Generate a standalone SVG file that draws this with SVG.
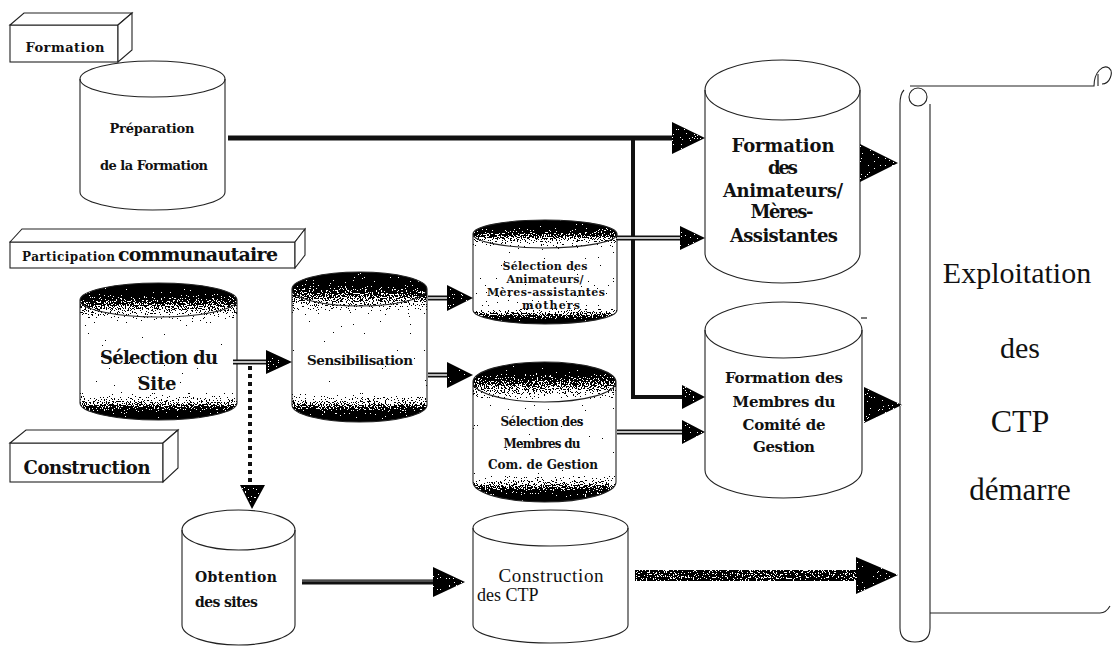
<svg xmlns="http://www.w3.org/2000/svg" width="1114" height="647" viewBox="0 0 1114 647" font-family="'Liberation Serif', 'DejaVu Serif', serif">
<style>
.ol{fill:none;stroke:#222;stroke-width:1.1}
.wf{fill:#fff;stroke:#222;stroke-width:1.1}
text{font-family:'Liberation Serif','DejaVu Serif',serif;fill:#111}
text.b{font-family:'DejaVu Serif','Liberation Serif',serif;font-weight:bold}
.c{text-anchor:middle}
.thick{fill:none;stroke:#111;stroke-width:5}
.dbl{fill:none;stroke:#111;stroke-width:5}
.dbli{fill:none;stroke:#fff;stroke-width:1.4}
.ah{fill:#2a2a2a;filter:url(#dith)}
</style>
<defs>
<filter id="dith" x="0" y="0" width="1" height="1" color-interpolation-filters="sRGB">
<feTurbulence type="fractalNoise" baseFrequency="0.75" numOctaves="2" seed="7" result="t"/>
<feColorMatrix in="t" type="matrix" values="1 0 0 0 0 1 0 0 0 0 1 0 0 0 0 0 0 0 0 1" result="n"/>
<feComposite in="SourceGraphic" in2="n" operator="arithmetic" k1="0" k2="1" k3="1.6" k4="-0.8" result="s"/>
<feComponentTransfer in="s" result="bw">
<feFuncR type="discrete" tableValues="0 1"/>
<feFuncG type="discrete" tableValues="0 1"/>
<feFuncB type="discrete" tableValues="0 1"/>
</feComponentTransfer>
<feComposite in="bw" in2="SourceAlpha" operator="in"/>
</filter>
<linearGradient id="shade" x1="0" y1="0" x2="0" y2="1">
<stop offset="0" stop-color="#000"/>
<stop offset="0.08" stop-color="#222"/>
<stop offset="0.2" stop-color="#999"/>
<stop offset="0.28" stop-color="#eee"/>
<stop offset="0.33" stop-color="#fff"/>
<stop offset="0.79" stop-color="#fff"/>
<stop offset="0.86" stop-color="#aaa"/>
<stop offset="0.93" stop-color="#333"/>
<stop offset="1" stop-color="#000"/>
</linearGradient>
<linearGradient id="shade2" x1="0" y1="0" x2="0" y2="1">
<stop offset="0" stop-color="#000"/>
<stop offset="0.1" stop-color="#333"/>
<stop offset="0.22" stop-color="#bbb"/>
<stop offset="0.3" stop-color="#fff"/>
<stop offset="0.84" stop-color="#eee"/>
<stop offset="0.9" stop-color="#888"/>
<stop offset="0.96" stop-color="#222"/>
<stop offset="1" stop-color="#000"/>
</linearGradient>
</defs>
<rect width="1114" height="647" fill="#fff"/>

<!-- section boxes -->
<g id="box-formation">
<rect class="wf" x="10" y="25" width="108" height="37"/>
<polygon class="wf" points="10,25 24,13 132,13 118,25"/>
<polygon class="wf" points="118,25 132,13 132,50 118,62"/>
<text class="b c" x="65" y="52" font-size="13" textLength="79">Formation</text>
</g>
<g id="box-participation">
<rect class="wf" x="10" y="242" width="285" height="26"/>
<polygon class="wf" points="10,242 22,229 305,229 295,242"/>
<polygon class="wf" points="295,242 305,229 305,255 295,268"/>
<text class="b" x="22" y="261" font-size="12" textLength="93">Participation</text>
<text class="b" x="118" y="261" font-size="19" textLength="160">communautaire</text>
</g>
<g id="box-construction">
<rect class="wf" x="10" y="443" width="153" height="39"/>
<polygon class="wf" points="10,443 26,430 178,430 163,443"/>
<polygon class="wf" points="163,443 178,430 178,468 163,482"/>
<text class="b c" x="87" y="474" font-size="18" textLength="127">Construction</text>
</g>

<!-- cylinders -->
<g id="preparation">
<path class="wf" d="M80,79 A72.5,18 0 0 1 225,79 V192 A72.5,18 0 0 1 80,192 Z"/>
<path class="ol" d="M80,79 A72.5,18 0 0 0 225,79"/>
<text class="b c" x="152" y="133" font-size="13" textLength="85">Préparation</text>
<text class="b c" x="154" y="170" font-size="13" textLength="108">de la Formation</text>
</g>
<g id="selection-site">
<path fill="url(#shade)" filter="url(#dith)" d="M80,300 A78.5,17 0 0 1 237,300 V403 A78.5,17 0 0 1 80,403 Z"/>
<path class="ol" d="M80,300 A78.5,17 0 0 1 237,300 V403 A78.5,17 0 0 1 80,403 Z M80,300 A78.5,17 0 0 0 237,300"/>
<text class="b c" x="159" y="364" font-size="18" textLength="118">Sélection du</text>
<text class="b c" x="157" y="390" font-size="18" textLength="39">Site</text>
</g>
<g id="sensibilisation">
<path fill="url(#shade)" filter="url(#dith)" d="M292,289 A67.5,17 0 0 1 427,289 V405 A67.5,17 0 0 1 292,405 Z"/>
<path class="ol" d="M292,289 A67.5,17 0 0 1 427,289 V405 A67.5,17 0 0 1 292,405 Z M292,289 A67.5,17 0 0 0 427,289"/>
<text class="b c" x="360" y="365" font-size="13.5" textLength="106">Sensibilisation</text>
</g>
<g id="selection-animateurs">
<path fill="url(#shade2)" filter="url(#dith)" d="M473,234 A72,14 0 0 1 617,234 V310 A72,14 0 0 1 473,310 Z"/>
<path class="ol" d="M473,234 A72,14 0 0 1 617,234 V310 A72,14 0 0 1 473,310 Z M473,234 A72,14 0 0 0 617,234"/>
<text class="b c" x="545" y="270" font-size="11" textLength="85">Sélection des</text>
<text class="b c" x="545" y="283" font-size="11" textLength="77">Animateurs/</text>
<text class="b c" x="546" y="296" font-size="11" textLength="118">Mères-assistantes</text>
<text class="b c" x="551" y="309" font-size="11" textLength="58">mothers</text>
</g>
<g id="selection-membres">
<path fill="url(#shade)" filter="url(#dith)" d="M473,382 A71.5,20 0 0 1 616,382 V482 A71.5,20 0 0 1 473,482 Z"/>
<path class="ol" d="M473,382 A71.5,20 0 0 1 616,382 V482 A71.5,20 0 0 1 473,482 Z M473,382 A71.5,20 0 0 0 616,382"/>
<text class="b c" x="542" y="426" font-size="12" textLength="83">Sélection des</text>
<text class="b c" x="542" y="448" font-size="12" textLength="77">Membres du</text>
<text class="b c" x="543" y="469" font-size="12" textLength="110">Com. de Gestion</text>
</g>
<g id="formation-animateurs">
<path class="wf" d="M705,90 A77.5,30 0 0 1 860,90 V253 A77.5,30 0 0 1 705,253 Z"/>
<path class="ol" d="M705,90 A77.5,30 0 0 0 860,90"/>
<text class="b c" x="783" y="152" font-size="18" textLength="103">Formation</text>
<text class="b c" x="783" y="174" font-size="18" textLength="30">des</text>
<text class="b c" x="783" y="197" font-size="18" textLength="120">Animateurs/</text>
<text class="b c" x="782" y="218" font-size="18" textLength="63">Mères-</text>
<text class="b c" x="784" y="242" font-size="18" textLength="108">Assistantes</text>
</g>
<g id="formation-membres">
<path class="wf" d="M705,330 A78.5,28 0 0 1 862,330 V470 A78.5,28 0 0 1 705,470 Z"/>
<path class="ol" d="M705,330 A78.5,28 0 0 0 862,330"/>
<text class="b c" x="784" y="383" font-size="15" textLength="118">Formation des</text>
<text class="b c" x="784" y="407" font-size="15" textLength="103">Membres du</text>
<text class="b c" x="784" y="430" font-size="15" textLength="83">Comité de</text>
<text class="b c" x="784" y="452" font-size="15" textLength="62">Gestion</text>
</g>
<g id="obtention">
<path class="wf" d="M182,530 A56.5,20 0 0 1 295,530 V625 A56.5,20 0 0 1 182,625 Z"/>
<path class="ol" d="M182,530 A56.5,20 0 0 0 295,530"/>
<text class="b" x="195" y="582" font-size="14" textLength="82">Obtention</text>
<text class="b" x="195" y="607" font-size="14" textLength="63">des sites</text>
</g>
<g id="construction-ctp">
<path class="wf" d="M473,528 A77.5,18 0 0 1 628,528 V625 A77.5,18 0 0 1 473,625 Z"/>
<path class="ol" d="M473,528 A77.5,18 0 0 0 628,528"/>
<text class="c" x="551" y="582" font-size="19" textLength="105">Construction</text>
<text x="477" y="601" font-size="18">des CTP</text>
</g>
<g id="exploitation">
<path class="ol" d="M910,86 H1094 C1094,72 1103,64 1109,68 C1114,72 1110,84 1102,84 M1098,86 V74"/>
<path class="wf" d="M904,90 Q900,94 900,104 V628 Q900,642 915,642 Q930,642 930,628 V104"/>
<circle class="ol" cx="918" cy="97" r="9"/>
<path class="ol" d="M930,613 H1100 Q1106,613 1110,606"/>
<text class="c" x="1017" y="283" font-size="30">Exploitation</text>
<text class="c" x="1020" y="358" font-size="30">des</text>
<text class="c" x="1020" y="432" font-size="32">CTP</text>
<text class="c" x="1020" y="500" font-size="31">démarre</text>
</g>

<!-- connectors -->
<g id="connectors">
<path class="thick" d="M228,138 H674"/>
<path fill="none" stroke="#111" stroke-width="4" d="M633,138 V397 H684"/>
<polygon class="ah" points="672,122 705,138 672,154"/>
<polygon class="ah" points="682,385 705,397 682,409"/>

<path class="dbl" d="M617,238 H682"/><path class="dbli" d="M617,238 H682"/>
<polygon class="ah" points="680,226 705,238 680,250"/>

<path class="dbl" d="M617,432 H684"/><path class="dbli" d="M617,432 H684"/>
<polygon class="ah" points="682,420 705,432 682,444"/>

<path class="dbl" d="M233,362 H268"/><path class="dbli" d="M233,362 H268"/>
<polygon class="ah" points="266,350 292,362 266,374"/>

<path class="dbl" d="M428,298 H449"/><path class="dbli" d="M428,298 H449"/>
<polygon class="ah" points="447,285 473,298 447,311"/>

<path class="dbl" d="M428,375 H449"/><path class="dbli" d="M428,375 H449"/>
<polygon class="ah" points="447,362 473,375 447,388"/>

<path fill="none" stroke="#111" stroke-width="4" stroke-dasharray="4 4" d="M250,366 V486"/>
<polygon class="ah" points="240,485 265,485 252,509"/>

<path class="dbl" d="M302,582 H436"/><path fill="none" stroke="#888" stroke-width="1" d="M302,581 H436"/>
<polygon class="ah" points="433,567 465,582 433,597"/>

<rect x="635" y="570" width="224" height="11" fill="#555" filter="url(#dith)"/>
<polygon class="ah" points="856,557 898,575 856,594"/>

<polygon class="ah" points="860,144 898,163 860,182"/>
<polygon class="ah" points="864,387 902,405 864,423"/>
<path fill="none" stroke="#222" stroke-width="1.2" d="M861,318 H867"/>
</g>
</svg>
